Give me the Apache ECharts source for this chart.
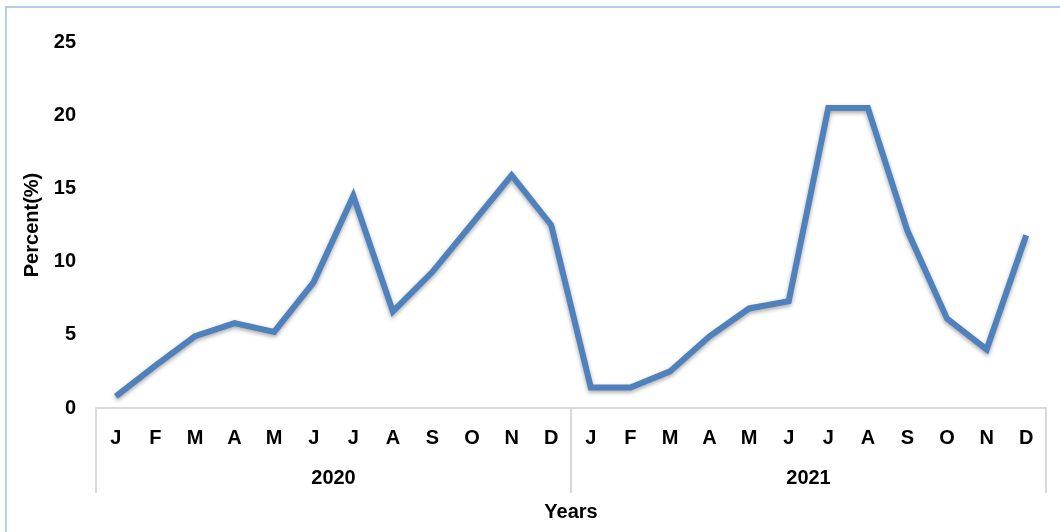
<!DOCTYPE html>
<html>
<head>
<meta charset="utf-8">
<script src="https://cdn.jsdelivr.net/npm/echarts@6/dist/echarts.min.js"></script>
<style>
  html, body { margin: 0; padding: 0; background: #fff; }
  #chart { width: 1060px; height: 532px; }
</style>
</head>
<body>
<div id="chart"></div>
<script>
// data
const months = ['J', 'F', 'M', 'A', 'M', 'J', 'J', 'A', 'S', 'O', 'N', 'D',
                'J', 'F', 'M', 'A', 'M', 'J', 'J', 'A', 'S', 'O', 'N', 'D'];
const years = ['2020', '2021'];
const percent2020 = [0.8, 2.9, 4.9, 5.8, 5.2, 8.6, 14.5, 6.6, 9.3, 12.6, 15.9, 12.5];
const percent2021 = [1.4, 1.4, 2.5, 4.9, 6.8, 7.3, 20.5, 20.5, 12.1, 6.1, 4.0, 11.8];

const font = 'Liberation Sans';
const fontSize = 20;
const axisGray = '#D9D9D9';

const myChart = echarts.init(document.getElementById('chart'));

const textStyle = {
  color: '#000',
  fontFamily: font,
  fontWeight: 'bold',
  fontSize: fontSize,
};

const option = {
  animation: false,
  graphic: [
    {
      // light blue chart frame (only left and top edges are visible)
      type: 'rect',
      shape: { x: 6, y: 7, width: 1200, height: 700 },
      style: { fill: 'none', stroke: '#9DBFE6', lineWidth: 1.5 },
      silent: true,
    },
  ],
  grid: {
    left: 96,
    right: 14,
    top: 42,
    bottom: 124,
  },
  xAxis: [
    {
      type: 'category',
      data: months,
      boundaryGap: true,
      axisLine: { show: true, lineStyle: { color: axisGray, width: 2 } },
      axisTick: { show: false },
      axisLabel: Object.assign({ interval: 0, margin: 20 }, textStyle),
    },
    {
      type: 'category',
      data: years,
      position: 'bottom',
      boundaryGap: true,
      axisLine: { show: false },
      axisTick: {
        show: true,
        interval: 0,
        length: 85,
        lineStyle: { color: axisGray, width: 2 },
      },
      axisLabel: Object.assign({ interval: 0, margin: 60 }, textStyle),
      name: 'Years',
      nameLocation: 'middle',
      nameGap: 94,
      nameTextStyle: textStyle,
    },
  ],
  yAxis: {
    type: 'value',
    min: 0,
    max: 25,
    interval: 5,
    splitLine: { show: false },
    axisLine: { show: false },
    axisTick: { show: false },
    axisLabel: Object.assign({ margin: 20 }, textStyle),
    name: 'Percent(%)',
    nameLocation: 'middle',
    nameGap: 54,
    nameRotate: 90,
    nameTextStyle: textStyle,
  },
  series: [
    {
      name: 'Percent',
      type: 'line',
      xAxisIndex: 0,
      data: percent2020.concat(percent2021),
      showSymbol: false,
      lineStyle: {
        color: '#4F81BD',
        width: 6,
        shadowColor: 'rgba(0, 0, 0, 0.35)',
        shadowBlur: 4,
        shadowOffsetY: 2,
        join: 'miter',
      },
    },
  ],
};

myChart.setOption(option);
</script>
</body>
</html>
